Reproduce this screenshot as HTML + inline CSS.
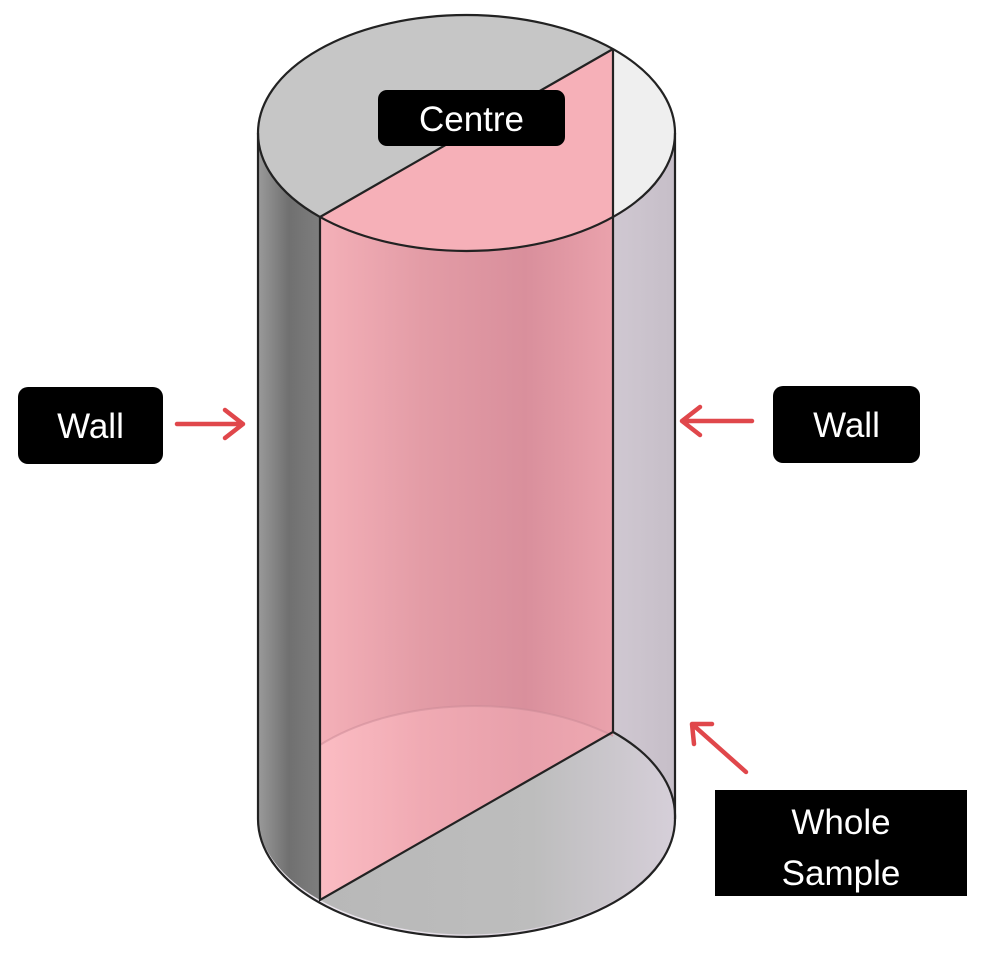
<!DOCTYPE html>
<html><head><style>body{margin:0;background:#fff}svg{display:block}</style></head><body>
<svg width="985" height="957" viewBox="0 0 985 957" xmlns="http://www.w3.org/2000/svg" font-family="Liberation Sans, sans-serif">
<defs>
<linearGradient id="lw" x1="0" x2="1"><stop offset="0" stop-color="#9a9a9a"/><stop offset="0.5" stop-color="#707070"/><stop offset="1" stop-color="#7e7e7e"/></linearGradient>
<linearGradient id="rw" x1="0" x2="1"><stop offset="0" stop-color="#eee9f0"/><stop offset="0.6" stop-color="#e0d9e2"/><stop offset="1" stop-color="#c6bec8"/></linearGradient>
<linearGradient id="pk" x1="0" x2="1"><stop offset="0" stop-color="#f4b0b8"/><stop offset="0.35" stop-color="#e39ca6"/><stop offset="0.7" stop-color="#d98f9c"/><stop offset="1" stop-color="#eaa2ac"/></linearGradient>
<linearGradient id="pk2" x1="0" x2="1"><stop offset="0" stop-color="#fbbcc3"/><stop offset="0.35" stop-color="#f0aab3"/><stop offset="0.7" stop-color="#e8a0ab"/><stop offset="1" stop-color="#eea8b1"/></linearGradient>
<linearGradient id="bt" x1="0" x2="1"><stop offset="0" stop-color="#b8b8b8"/><stop offset="0.6" stop-color="#bdbdbd"/><stop offset="1" stop-color="#d6cfd9"/></linearGradient>
</defs>
<path d="M258,133 L675,133 L675,819 A208,118 0 0 1 258,819 Z" fill="url(#rw)"/>
<path d="M258,133 L320,133 L320,900 A208,118 0 0 1 258,819 Z" fill="url(#lw)"/>
<path d="M320,900 L613,732 A208,118 0 0 1 675,819 A208,118 0 0 1 320,900 Z" fill="url(#bt)"/>
<path d="M320,217 L613,49 L613,732 L320,900 Z" fill="url(#pk)"/>
<path d="M320,745 A208,118 0 0 1 613,736 L613,732 L320,900 Z" fill="url(#pk2)"/>
<path d="M320,745 A208,118 0 0 1 613,736" fill="none" stroke="#c98a96" stroke-width="2" opacity="0.5"/>
<path d="M320,217 L613,49 A208,118 0 0 0 258,133 A208,118 0 0 0 320,217 Z" fill="#c6c6c6"/>
<path d="M613,49 A208,118 0 0 1 675,133 A208,118 0 0 1 613,217 Z" fill="#efefef"/>
<path d="M320,217 L613,49 L613,217 A208,118 0 0 1 320,217 Z" fill="#f6b0b8"/>
<g fill="none" stroke="#222" stroke-width="2.2">
<ellipse cx="466.5" cy="133" rx="208.5" ry="118"/>
<path d="M258,133 L258,819 A208.5,118 0 0 0 675,819 L675,133"/>
<path d="M320,217 L613,49 M320,217 L320,900 L613,732 L613,49"/>
<path d="M613,732 A208,118 0 0 1 675,819"/>
</g>
<rect x="378" y="90" width="187" height="56" rx="9" fill="#000"/>
<text x="471.5" y="131" font-size="35" fill="#fff" text-anchor="middle">Centre</text>
<rect x="18" y="387" width="145" height="77" rx="10" fill="#000"/>
<text x="90.5" y="438" font-size="35" fill="#fff" text-anchor="middle">Wall</text>
<rect x="773" y="386" width="147" height="77" rx="10" fill="#000"/>
<text x="846.5" y="437" font-size="35" fill="#fff" text-anchor="middle">Wall</text>
<rect x="715" y="790" width="252" height="106" fill="#000"/>
<text x="841" y="834" font-size="35" fill="#fff" text-anchor="middle">Whole</text>
<text x="841" y="885" font-size="35" fill="#fff" text-anchor="middle">Sample</text>
<g stroke="#e0474b" stroke-width="4.5" fill="none" stroke-linecap="round" stroke-linejoin="round">
<path d="M177,424 L243,424 M225,410 L243,424 L225,438"/>
<path d="M752,421 L682,421 M700,407 L682,421 L700,435"/>
<path d="M746,772 L692,724 M694,744 L692,724 L712,724"/>
</g>
</svg>
</body></html>
